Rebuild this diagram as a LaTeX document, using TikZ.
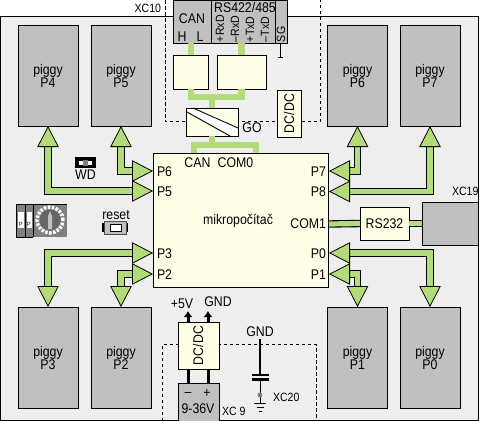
\documentclass[tikz,border=0pt]{standalone}
\usepackage{fontspec}
\setmainfont[FakeStretch=0.88]{Liberation Sans}
\usetikzlibrary{arrows.meta}
\definecolor{grn}{HTML}{B3DC78}
\definecolor{pan}{HTML}{EEEEEE}
\definecolor{gry}{HTML}{C0C0C0}
\definecolor{yel}{HTML}{FFFFE8}
\tikzset{
  every node/.style={inner sep=0pt,outer sep=0pt,font=\fontsize{14}{13}\selectfont},
  box/.style={draw=black,line width=1pt,rectangle,anchor=center},
  piggy/.style={box,fill=gry,minimum width=60pt,minimum height=101pt,align=center},
  ybox/.style={box,fill=yel},
  gbox/.style={box,fill=gry},
  fat/.style={line width=1.1pt,double=grn,double distance=5.2pt,
    {Triangle[length=21pt,width=21.5pt,fill=grn,color=black,line width=.8pt]}-{Triangle[length=21pt,width=21.5pt,fill=grn,color=black,line width=.8pt]}},
  fatplain/.style={line width=1.1pt,double=grn,double distance=5.2pt},
  link/.style={draw=grn,line width=6.5pt},
  pw/.style={draw=black,line width=3pt,-{Latex[length=6pt,width=9pt]}},
  pwp/.style={draw=black,line width=3pt},
  dashline/.style={draw=black,line width=.8pt,dash pattern=on 3.5pt off 2.5pt},
  small/.style={font=\fontsize{12}{12}\selectfont},
}
\begin{document}
\begin{tikzpicture}[x=1pt,y=-1pt]
\useasboundingbox (0,0) rectangle (480,421);
\fill[white] (0,0) rectangle (480,421);
% panel
\draw[fill=pan,line width=1pt] (.5,16.5) rectangle (478,420);
% dashed frames
\draw[dashline] (165,0) -- (165,121.5) -- (320,121.5) -- (320,0);
\draw[dashline] (162,421) -- (162,344.5) -- (316,344.5) -- (316,421);
% piggy
\node[piggy] (p4) at (48,75.5) {piggy\\P4};
\node[piggy] (p5) at (121,75.5) {piggy\\P5};
\node[piggy] (p6) at (357.5,75.5) {piggy\\P6};
\node[piggy] (p7) at (430,75.5) {piggy\\P7};
\node[piggy] (p3) at (48,357.5) {piggy\\P3};
\node[piggy] (p2) at (121,357.5) {piggy\\P2};
\node[piggy] (p1) at (357.5,357.5) {piggy\\P1};
\node[piggy] (p0) at (430,357.5) {piggy\\P0};
% main
\node[ybox,minimum width=175.5pt,minimum height=134pt] (main) at (241,220) {};
\node at (238,221) {mikropočítač};
% ports
\coordinate (c6) at (153,171);
\coordinate (c5) at (153,191);
\coordinate (c3) at (153,253);
\coordinate (c2) at (153,274);
\coordinate (c7) at (329,171);
\coordinate (c8) at (329,191.5);
\coordinate (c0) at (329,253);
\coordinate (c1) at (329,274);
\draw[fat] (p4.south) |- (c5);
\draw[fat] (p5.south) |- (c6);
\draw[fat] (p3.north) |- (c3);
\draw[fat] (p2.north) |- (c2);
\draw[fat] (p6.south) |- (c7);
\draw[fat] (p7.south) |- (c8);
\draw[fat] (p0.north) |- (c0);
\draw[fat] (p1.north) |- (c1);
\node[anchor=west] at (157,171.5) {P6};
\node[anchor=west] at (157,191.5) {P5};
\node[anchor=west] at (157,253.5) {P3};
\node[anchor=west] at (157,274.5) {P2};
\node[anchor=east] at (326,171.5) {P7};
\node[anchor=east] at (326,191.5) {P8};
\node[anchor=east] at (326,253.5) {P0};
\node[anchor=east] at (326,274.5) {P1};
\node[anchor=east] at (326,224) {COM1};
\node at (197.5,163) {CAN};
\node at (235.5,163) {COM0};
% RS232 and XC19
\node[ybox,minimum width=49pt,minimum height=33pt] (rs232) at (384.5,223.5) {RS232};
\node[gbox,anchor=north west,minimum width=56.5pt,minimum height=43pt] (xc19) at (422,202) {};
\coordinate (com1) at (329,224);
\draw[fatplain] (com1) -- (rs232.west);
\draw[fatplain] (rs232.east) -- (rs232.east -| xc19.west);
\node[small,anchor=west] at (452,191) {XC19};
% top connector
\node[gbox,anchor=north west,minimum width=38pt,minimum height=43pt] (can) at (173,0) {};
\node[gbox,anchor=north west,minimum width=64pt,minimum height=43pt] (rs) at (211,0) {};
\node[gbox,anchor=north west,minimum width=12pt,minimum height=43pt] (sg) at (275,0) {};
\node at (192,19) {CAN};
\node at (182,36.5) {H};
\node at (200,36.5) {L};
\node at (245,7) {RS422/485};
\node[rotate=90,anchor=west,small] at (220,42) {+RxD};
\node[rotate=90,anchor=west,small] at (235,42) {--RxD};
\node[rotate=90,anchor=west,small] at (250,42) {+TxD};
\node[rotate=90,anchor=west,small] at (265,42) {--TxD};
\node[rotate=90,anchor=west,small] at (281,42) {SG};
\node[small,anchor=east] at (161,8) {XC10};
\coordinate (sgend) at (280.5,57);
\draw[line width=1pt] (280.5,43) -- (sgend);
\draw[line width=1pt] (278,57) -- (283,57);
% drivers
\node[ybox,minimum width=35pt,minimum height=34pt] (d1) at (190.5,72) {};
\node[ybox,minimum width=49pt,minimum height=34pt] (d2) at (241.5,72) {};
\node[ybox,minimum width=52pt,minimum height=28pt] (go) at (212,122) {};
\fill[white] (193,108) -- (238,128) -- (230,136) -- (187,112) -- cycle;
\draw[line width=.9pt] (193,108) -- (238,128);
\draw[line width=.9pt] (187,112) -- (230,136);
\draw[line width=1pt] (go.north west) rectangle (go.south east);
\node at (252,128) {GO};
\draw[link] (191,43) -- (191,55);
\draw[link] (241.5,43) -- (d2.north);
\coordinate (j) at (212,97);
\draw[link] (191,89) |- (241.5,97) -- (d2.south);
\draw[link] (j) -- (go.north);
\draw[link] (go.south) -- (212,145);
\draw[link] (194,153) |- (256,145) -- (256,153);
\draw[line width=1pt,draw=black] (main.north west) -- (main.north east);
% DC/DC top
\node[ybox,minimum width=24pt,minimum height=47pt] (dc1) at (289,113.5) {};
\node[rotate=90] at (289,113.5) {DC/DC};
% DC/DC bottom
\node[ybox,minimum width=41pt,minimum height=47pt] (dc2) at (198.5,345.5) {};
\node[rotate=90] at (198,345.5) {DC/DC};
\node[gbox,anchor=north west,minimum width=41pt,minimum height=38pt] (pwr) at (178,383) {};
\coordinate (v5) at (188,311);
\coordinate (vg) at (208,311);
\draw[pw] (188,322) -- (v5);
\draw[pw] (208,322) -- (vg);
\draw[pwp] (188,369) -- (188,383);
\draw[pwp] (208,369) -- (208,383);
\node at (182,304) {+5V};
\node at (218,302) {GND};
\node at (188,394) {--};
\node at (207,393.5) {+};
\node at (198,409) {9-36V};
\node[small,anchor=west] at (222,411) {XC 9};
% capacitor
\node at (260,332) {GND};
\draw[line width=2pt] (260,339) -- (260,375);
\draw[line width=2.2pt] (252,375) -- (269,375);
\draw[line width=2.2pt] (252,379.5) -- (269,379.5);
\draw[line width=1pt] (260,380) -- (260,403);
\fill[gray] (260,395) circle (2.5pt);
\draw[line width=1pt] (254,403.5) -- (266,403.5) (256.5,407.5) -- (263.5,407.5) (258.5,411) -- (261.5,411);
\node[small,anchor=west] at (273,397) {XC20};
% WD
\fill[black] (75,157) rectangle (96,168);
\fill[white] (79,161) rectangle (92,165);
\fill[gray] (83,160) rectangle (88,166);
\node at (85.5,174.5) {WD};
% reset
\node at (116,215) {reset};
\draw[line width=2pt] (103,223) -- (103,232) (127,223) -- (127,232);
\draw[fill=gry,draw=black!70,line width=.8pt] (104.5,221) rectangle (126.5,234);
\draw[fill=white,line width=.8pt] (110,224.5) rectangle (121,231);
% rotary switch
\fill[gray] (16,204) rectangle (67,237);
\draw[line width=.8pt] (16,204) -- (67,204) (16,204) -- (16,237) (25,204) -- (25,237) (33,204) -- (33,237) (16,237) -- (33,237);
\fill[white] (18,212) rectangle (24,228);
\fill[white] (26.5,212) rectangle (32,228);
\node[font=\fontsize{6}{6}\selectfont] at (21,224) {P};
\node[font=\fontsize{6}{6}\selectfont] at (29,224) {P};
\draw[white,line width=3.5pt,dash pattern=on 2.5pt off 1.5pt] (50,220) circle (13pt);
\fill[black!60] (50,220) circle (10.5pt);
\fill[gry] (48,229) -- (48,216) -- (50,211) -- (52,216) -- (52,229) -- cycle;
\end{tikzpicture}
\end{document}
